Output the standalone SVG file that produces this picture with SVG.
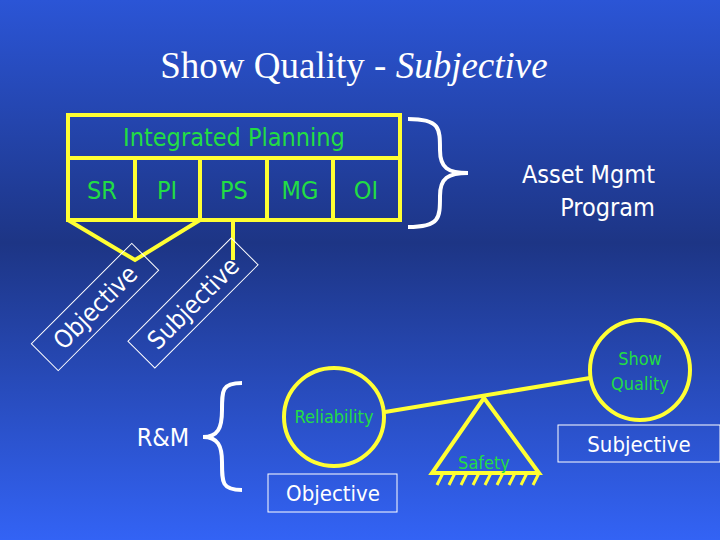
<svg xmlns="http://www.w3.org/2000/svg" width="720" height="540" viewBox="0 0 720 540">
<defs>
<linearGradient id="bg" x1="0" y1="0" x2="0" y2="1">
<stop offset="0" stop-color="#2b55d6"/><stop offset="0.45" stop-color="#1d3585"/><stop offset="1" stop-color="#3363f5"/>
</linearGradient>
<style>
.y{fill:none;stroke:#ffff33;stroke-width:4}
.w{fill:none;stroke:#fff;stroke-width:4}
.g{fill:#22dd44;font-family:"DejaVu Sans Condensed","DejaVu Sans",sans-serif;text-anchor:middle}
.t{fill:#fff;font-family:"DejaVu Sans Condensed","DejaVu Sans",sans-serif;text-anchor:middle}
.b{fill:none;stroke:#fff;stroke-width:1}
</style>
</defs>
<rect width="720" height="540" fill="url(#bg)"/>
<text x="354" y="78" fill="#fff" font-family="Liberation Serif,serif" font-size="37" text-anchor="middle">Show Quality - <tspan font-style="italic">Subjective</tspan></text>
<g id="planning">
<rect x="68" y="115" width="332" height="105" class="y"/>
<line x1="68" y1="158" x2="400" y2="158" class="y"/>
<line x1="135" y1="158" x2="135" y2="220" class="y"/>
<line x1="200" y1="158" x2="200" y2="220" class="y"/>
<line x1="267" y1="158" x2="267" y2="220" class="y"/>
<line x1="333" y1="158" x2="333" y2="220" class="y"/>
<text x="234" y="146" class="g" font-size="25">Integrated Planning</text>
<text x="102" y="199" class="g" font-size="25">SR</text>
<text x="167" y="199" class="g" font-size="25">PI</text>
<text x="234" y="199" class="g" font-size="25">PS</text>
<text x="300" y="199" class="g" font-size="25">MG</text>
<text x="366" y="199" class="g" font-size="25">OI</text>
</g>
<g id="connectors">
<polyline points="68,220 135,260 200,220" class="y"/>
<line x1="233" y1="220" x2="233" y2="260" class="y"/>
<path d="M408,119 C440,119 440,128 440,150 C440,168 448,173 468,173 C448,173 440,178 440,196 C440,218 440,227 408,227" class="w"/>
<path d="M242,383 C222,383 222,390 222,410 C222,428 218,437 203,437 C218,437 222,446 222,462 C222,483 222,490 242,490" class="w"/>
<line x1="385" y1="412" x2="590" y2="378" class="y" stroke-width="5"/>
</g>
<g id="objective-rot" transform="translate(95,307) rotate(-45)">
<rect x="-71" y="-19" width="142" height="38" class="b"/>
<text x="0" y="9" class="t" font-size="25">Objective</text>
</g>
<g id="subjective-rot" transform="translate(193,303) rotate(-45)">
<rect x="-73" y="-19" width="146" height="38" class="b"/>
<text x="0" y="9" class="t" font-size="25">Subjective</text>
</g>
<g id="asset"><text x="655" y="183" class="t" font-size="25" style="text-anchor:end">Asset Mgmt</text><text x="655" y="216" class="t" font-size="25" style="text-anchor:end">Program</text></g>
<g id="reliability"><ellipse cx="334" cy="417" rx="50" ry="49" class="y"/><text x="334" y="423" class="g" font-size="18">Reliability</text></g>
<g id="showquality"><ellipse cx="640" cy="370" rx="50" ry="50" class="y"/><text x="640" y="365" class="g" font-size="18">Show</text><text x="640" y="390" class="g" font-size="18">Quality</text></g>
<g id="safety">
<polygon points="484,398 432,473 539,473" class="y"/>
<path d="M437,485 l6,-12 M449,485 l6,-12 M461,485 l6,-12 M473,485 l6,-12 M485,485 l6,-12 M497,485 l6,-12 M509,485 l6,-12 M521,485 l6,-12 M533,485 l6,-12" stroke="#ffff33" stroke-width="3"/>
<text x="484" y="469" class="g" font-size="18">Safety</text>
</g>
<g id="rm"><text x="163" y="446" class="t" font-size="25">R&amp;M</text></g>
<g id="objective"><rect x="268" y="474" width="129" height="38" class="b"/><text x="333" y="501" class="t" font-size="22">Objective</text></g>
<g id="subjective"><rect x="558" y="425" width="162" height="37" class="b"/><text x="639" y="452" class="t" font-size="22">Subjective</text></g>
</svg>
